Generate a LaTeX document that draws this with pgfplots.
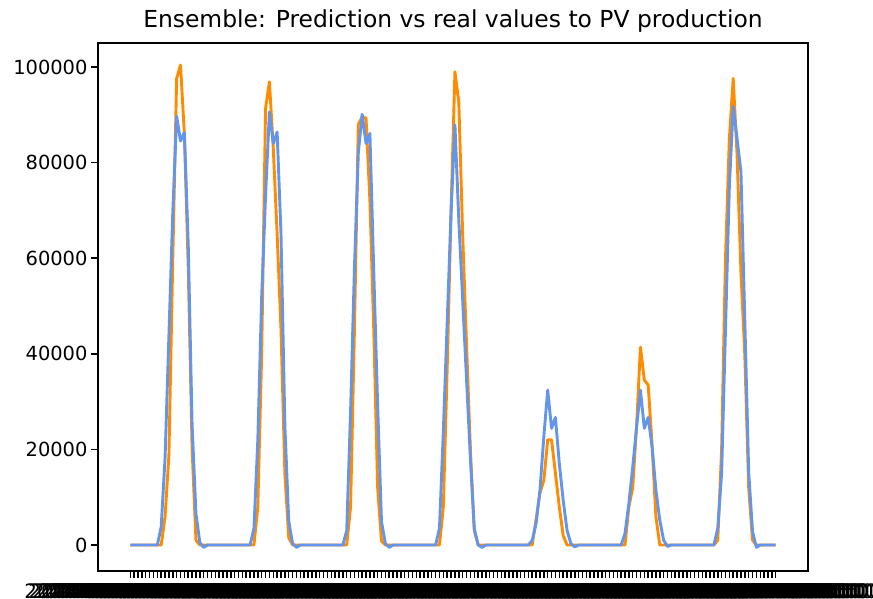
\documentclass[border=0pt]{standalone}
\usepackage{pgfplots}
\pgfplotsset{compat=1.18}
\usepackage{pgfplotstable}
\usepackage{fontspec}
\setmainfont{DejaVu Sans}
\definecolor{dorange}{RGB}{255,140,0}
\definecolor{cblue}{RGB}{100,149,237}

\gdef\mylabels{}
\foreach \d in {1,...,7}{%
  \foreach \h in {00,01,02,03,04,05,06,07,08,09,10,11,12,13,14,15,16,17,18,19,20,21,22,23}{%
    \xdef\mylabels{\mylabels{2021-06-0\d\space\h:00:00},}}}
\pgfplotsset{mylabels/.style/.expanded={xticklabels={\mylabels}}}

\pgfplotstableread{
x o b
0 0 0
1 0 0
2 0 0
3 0 0
4 0 0
5 0 0
6 0 0
7 0 0
8 0 3800
9 5900 18200
10 18800 43900
11 60000 69700
12 97600 89700
13 100400 84500
14 86000 86300
15 58000 62800
16 20000 25000
17 1000 6500
18 0 500
19 0 -500
20 0 0
21 0 0
22 0 0
23 0 0
24 0 0
25 0 0
26 0 0
27 0 0
28 0 0
29 0 0
30 0 0
31 0 0
32 0 3500
33 8000 22000
34 40000 52000
35 91300 73000
36 96900 90600
37 83000 84000
38 65000 86400
39 45000 65000
40 15000 25000
41 1500 5000
42 0 300
43 0 -500
44 0 0
45 0 0
46 0 0
47 0 0
48 0 0
49 0 0
50 0 0
51 0 0
52 0 0
53 0 0
54 0 0
55 0 0
56 0 3000
57 8000 28000
58 45000 58000
59 88000 82000
60 89600 90100
61 89300 84000
62 72000 86100
63 45000 57200
64 12000 29300
65 800 4900
66 0 300
67 0 -500
68 0 0
69 0 0
70 0 0
71 0 0
72 0 0
73 0 0
74 0 0
75 0 0
76 0 0
77 0 0
78 0 0
79 0 0
80 0 3500
81 8000 23800
82 37000 46700
83 70000 69600
84 99000 87900
85 92700 68000
86 65000 51300
87 42000 34700
88 20000 18100
89 3000 3500
90 0 0
91 0 -500
92 0 0
93 0 0
94 0 0
95 0 0
96 0 0
97 0 0
98 0 0
99 0 0
100 0 0
101 0 0
102 0 0
103 0 0
104 0 1000
105 5400 4500
106 10900 11500
107 13500 22700
108 22000 32400
109 22000 24400
110 15000 26700
111 8000 17100
112 2000 9400
113 0 3100
114 0 300
115 0 -400
116 0 0
117 0 0
118 0 0
119 0 0
120 0 0
121 0 0
122 0 0
123 0 0
124 0 0
125 0 0
126 0 0
127 0 0
128 0 2400
129 8000 8700
130 12000 16300
131 25000 24700
132 41400 32400
133 34500 24400
134 33500 26700
135 21000 20600
136 5900 11500
137 0 5200
138 0 1000
139 0 -300
140 0 0
141 0 0
142 0 0
143 0 0
144 0 0
145 0 0
146 0 0
147 0 0
148 0 0
149 0 0
150 0 0
151 0 0
152 1000 3500
153 20000 15000
154 60000 45000
155 85000 75000
156 97600 91700
157 81600 85000
158 57100 78100
159 39700 47000
160 12000 15300
161 1000 2800
162 0 -500
163 0 0
164 0 0
165 0 0
166 0 0
167 0 0
}\data

\begin{document}
\begin{tikzpicture}
\begin{axis}[
  at={(98bp,28bp)}, anchor=south west,
  width=710bp, height=528bp, scale only axis,
  xmin=-8.35, xmax=175.35, ymin=-5440, ymax=105020,
  axis line style={line width=1.5bp},
  every tick/.style={line width=1.5bp, black},
  tick align=outside, tick pos=left,
  major tick length=7bp,
  xtick={0,...,167},
  mylabels,
  scaled y ticks=false,
  ytick={0,20000,40000,60000,80000,100000},
  yticklabels={0,20000,40000,60000,80000,100000},
  yticklabel style={font=\fontsize{19.5}{22}\selectfont},
  xticklabel style={font=\fontsize{20}{22}\selectfont, inner sep=2bp, yshift=-4bp},
  title={Ensemble: Prediction vs real values to PV production},
  title style={font=\fontsize{23.5}{27}\selectfont, yshift=1bp},
]
\addplot[dorange, line width=2.9bp, line join=round] table[x=x,y=o]{\data};
\addplot[cblue, line width=2.9bp, line join=round] table[x=x,y=b]{\data};
\end{axis}
\pgfresetboundingbox
\path[use as bounding box] (0,0) rectangle (873bp,599bp);
\end{tikzpicture}
\end{document}
